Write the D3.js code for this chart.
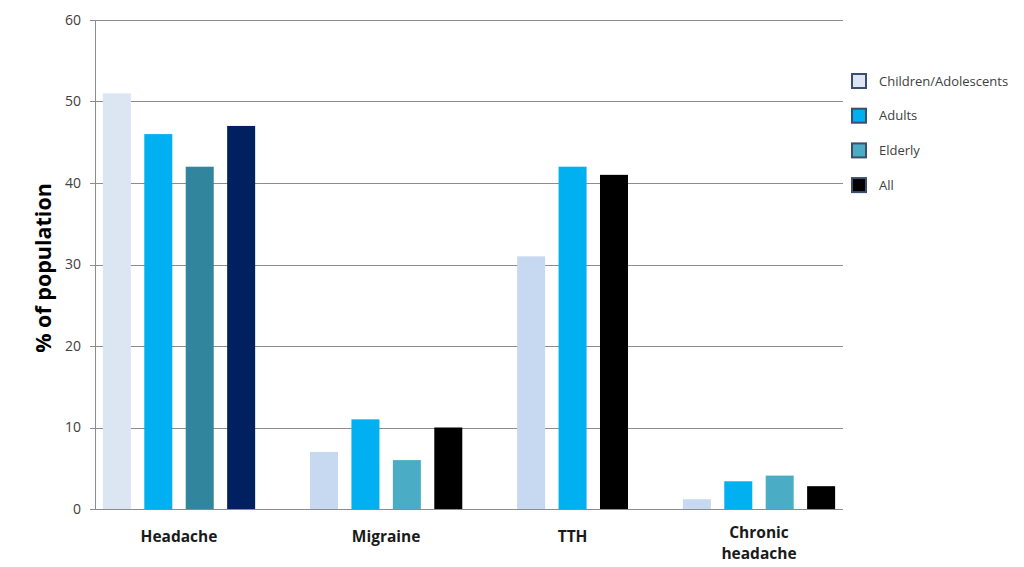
<!DOCTYPE html>
<html>
<head>
<meta charset="utf-8">
<script src="https://cdn.jsdelivr.net/npm/d3@7"></script>
<style>
  body { margin: 0; background: #fff; }
  text { font-family: "Open Sans", "DejaVu Sans", sans-serif; }
</style>
</head>
<body>
<div id="chart"></div>
<script>
// Data
const categories = ["Headache", "Migraine", "TTH", "Chronic headache"];
const series = ["Children/Adolescents", "Adults", "Elderly", "All"];
const children = [51, 7, 31, 1.2];
const adults = [46, 11, 42, 3.4];
const elderly = [42, 6, null, 4.1];
const all = [47, 10, 41, 2.8];
const yTicks = [0, 10, 20, 30, 40, 50, 60];

// Colours (first group is drawn in its own shades)
const seriesColors = ["#c6d9f1", "#00b0f0", "#4bacc6", "#000000"];
const headacheColors = ["#dce6f2", "#00b0f0", "#31859c", "#002060"];
const legendColors = ["#dce6f2", "#00b0f0", "#4bacc6", "#000000"];

const values = [children, adults, elderly, all];

// Set Dimensions
const width = 1024, height = 567;
const plotLeft = 95, plotRight = 843, plotTop = 20, plotBottom = 509;

const svg = d3.select("#chart").append("svg")
  .attr("width", width)
  .attr("height", height);

// Flat list of bars; missing values are skipped, one empty slot between groups
const bars = [];
const slots = [];
const groupSlots = {};
categories.forEach((c, ci) => {
  if (ci > 0) slots.push("gap" + ci);
  groupSlots[c] = [];
  series.forEach((s, si) => {
    const v = values[si][ci];
    if (v == null) return;
    const key = c + "|" + s;
    slots.push(key);
    groupSlots[c].push(key);
    bars.push({ key: key, cat: c, ci: ci, si: si, value: v });
  });
});

const x = d3.scaleBand()
  .domain(slots)
  .range([plotLeft, plotRight])
  .paddingInner(0.324)
  .paddingOuter(0.19);

const y = d3.scaleLinear()
  .domain([0, 60])
  .range([plotBottom, plotTop]);

// Gridlines
svg.append("g")
  .selectAll("line")
  .data(yTicks)
  .enter().append("line")
  .attr("x1", plotLeft - 5)
  .attr("x2", plotRight)
  .attr("y1", d => Math.round(y(d)) + 0.5)
  .attr("y2", d => Math.round(y(d)) + 0.5)
  .attr("stroke", "#8c8c8c")
  .attr("stroke-width", 1);

// Y axis line
svg.append("line")
  .attr("x1", plotLeft + 0.5).attr("x2", plotLeft + 0.5)
  .attr("y1", plotTop).attr("y2", plotBottom)
  .attr("stroke", "#8c8c8c");

// Y tick labels
svg.append("g")
  .selectAll("text")
  .data(yTicks)
  .enter().append("text")
  .attr("x", 81)
  .attr("y", d => y(d))
  .attr("dy", "0.35em")
  .attr("text-anchor", "end")
  .attr("font-size", 14)
  .attr("fill", "#404040")
  .text(d => d);

// Bars
svg.append("g")
  .selectAll("rect")
  .data(bars)
  .enter().append("rect")
  .attr("x", d => x(d.key))
  .attr("width", x.bandwidth())
  .attr("y", d => y(d.value))
  .attr("height", d => y(0) - y(d.value))
  .attr("fill", d => d.ci === 0 ? headacheColors[d.si] : seriesColors[d.si]);

// Category labels
categories.forEach(c => {
  const ks = groupSlots[c];
  const cx = (x(ks[0]) + x(ks[ks.length - 1]) + x.bandwidth()) / 2;
  const words = c === "Chronic headache" ? ["Chronic", "headache"] : [c];
  const t = svg.append("text")
    .attr("text-anchor", "middle")
    .attr("font-size", 15.5)
    .attr("font-weight", "bold")
    .attr("fill", "#1a1a1a");
  words.forEach((w, i) => {
    t.append("tspan")
      .attr("x", cx)
      .attr("y", 542 + (words.length > 1 ? -4 : 0) + i * 21)
      .text(w);
  });
});

// Y title
svg.append("text")
  .attr("transform", "translate(51,268) rotate(-90)")
  .attr("text-anchor", "middle")
  .attr("font-size", 21.5)
  .attr("font-weight", "bold")
  .attr("fill", "#000")
  .text("% of population");

// Legend
const legend = svg.append("g")
  .selectAll("g")
  .data(series)
  .enter().append("g")
  .attr("transform", (d, i) => "translate(852," + (74 + i * 34.7) + ")");

legend.append("rect")
  .attr("width", 14)
  .attr("height", 14)
  .attr("fill", (d, i) => legendColors[i])
  .attr("stroke", "#3b4e6b")
  .attr("stroke-width", 2);

legend.append("text")
  .attr("x", 27)
  .attr("y", 7)
  .attr("dy", "0.35em")
  .attr("font-size", 13)
  .attr("fill", "#404040")
  .text(d => d);
</script>
</body>
</html>
